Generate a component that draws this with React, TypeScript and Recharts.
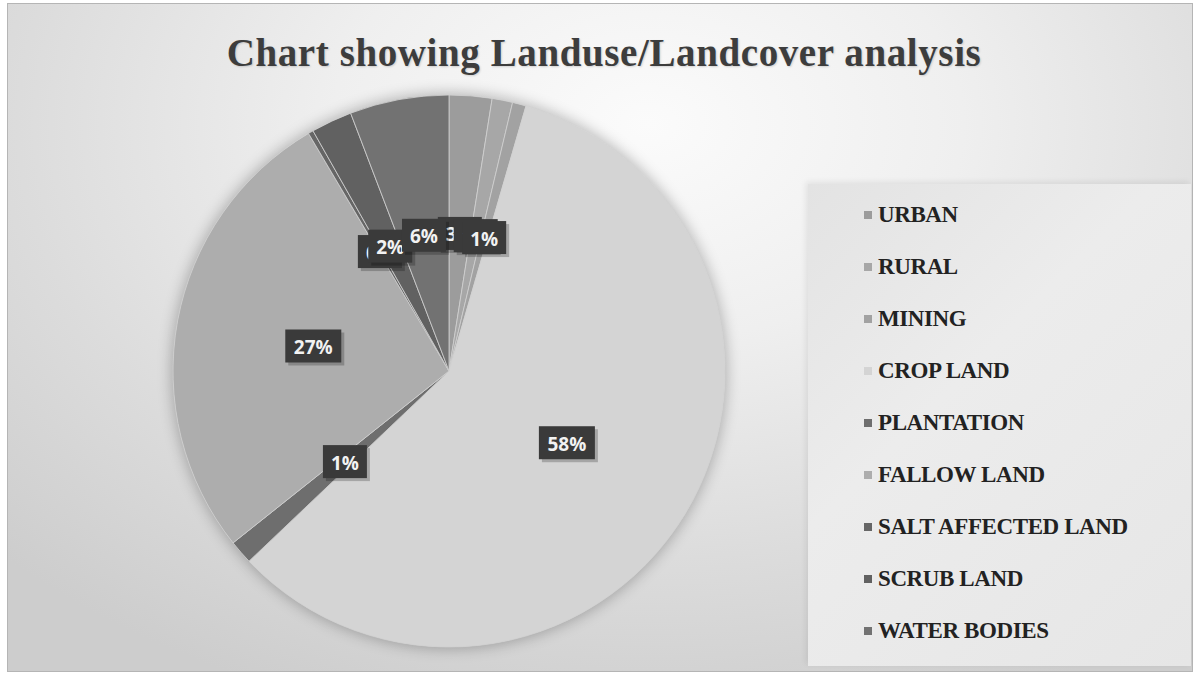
import { PieChart, Pie, Cell } from 'recharts'

const categories = [
  'URBAN',
  'RURAL',
  'MINING',
  'CROP LAND',
  'PLANTATION',
  'FALLOW LAND',
  'SALT AFFECTED LAND',
  'SCRUB LAND',
  'WATER BODIES',
]

// share of the study area, in percent
const shares = [2.5, 1.2, 0.8, 58.4, 1.4, 27.2, 0.3, 2.4, 5.8]

const COLORS = [
  '#9c9c9c', // urban
  '#a7a7a7', // rural
  '#a2a2a2', // mining
  '#d4d4d4', // crop land
  '#6e6e6e', // plantation
  '#adadad', // fallow land
  '#666666', // salt affected
  '#616161', // scrub land
  '#727272', // water bodies
]

const data = categories.map((name, i) => ({ name, value: shares[i] }))

const RADIAN = Math.PI / 180
const CX = 449
const CY = 371
const R = 276

function renderLabel(props: any) {
  const { cx, cy, midAngle, outerRadius, percent } = props
  const r = outerRadius * 0.5
  const x = cx + r * Math.cos(-midAngle * RADIAN)
  const y = cy + r * Math.sin(-midAngle * RADIAN)
  const text = `${Math.round(percent * 100)}%`
  const w = (text.length - 1) * 12 + 19 + 13
  const h = 33
  return (
    <g>
      <rect x={x - w / 2 + 3} y={y - h / 2 + 3} width={w} height={h} fill="#000" opacity={0.22} />
      <rect x={x - w / 2} y={y - h / 2} width={w} height={h} fill="#3a3a3a" />
      <text
        x={x}
        y={y + 1}
        fill="#f2f2f2"
        textAnchor="middle"
        dominantBaseline="central"
        fontFamily="'Open Sans', sans-serif"
        fontWeight={700}
        fontSize={19}
      >
        {text}
      </text>
    </g>
  )
}

function LegendBox() {
  return (
    <div
      style={{
        position: 'absolute',
        left: 864,
        top: 189,
        fontFamily: "'Liberation Serif', 'Times New Roman', serif",
      }}
    >
      {data.map((d, i) => (
        <div
          key={d.name}
          style={{ display: 'flex', alignItems: 'center', height: 52, whiteSpace: 'nowrap' }}
        >
          <span
            style={{
              width: 8,
              height: 8,
              background: COLORS[i],
              marginRight: 6,
              display: 'inline-block',
            }}
          />
          <span style={{ fontWeight: 700, fontSize: 23, color: '#222', letterSpacing: -0.4 }}>
            {d.name}
          </span>
        </div>
      ))}
    </div>
  )
}

export default function App() {
  return (
    <div
      style={{
        position: 'absolute',
        left: 0,
        top: 0,
        width: 1199,
        height: 677,
        background: '#fff',
        overflow: 'hidden',
      }}
    >
      <div
        style={{
          position: 'absolute',
          left: 7,
          top: 3,
          width: 1184,
          height: 667,
          border: '1px solid #b5b5b5',
          background:
            'radial-gradient(ellipse 900px 620px at 640px 120px, #fbfbfb 0%, #efefef 35%, #dcdcdc 70%, #cdcdcd 100%)',
        }}
      />
      <div
        style={{
          position: 'absolute',
          left: 808,
          top: 184,
          width: 383,
          height: 482,
          background: 'linear-gradient(135deg, #e3e3e3 0%, #ececec 40%, #e6e6e6 100%)',
          boxShadow: '-2px -2px 6px rgba(0,0,0,0.08)',
        }}
      />
      <div
        style={{
          position: 'absolute',
          left: CX - R,
          top: CY - R,
          width: R * 2,
          height: R * 2,
          borderRadius: '50%',
          boxShadow: '0 0 14px 2px rgba(0,0,0,0.25)',
        }}
      />
      <div
        style={{
          position: 'absolute',
          left: 0,
          top: 31,
          width: 1208,
          textAlign: 'center',
          fontFamily: "'Liberation Serif', 'Times New Roman', serif",
          fontWeight: 700,
          fontSize: 39,
          color: '#3d3d3d',
          letterSpacing: 0.6,
          lineHeight: 1.15,
          textShadow: '1px 1px 2px rgba(0,0,0,0.15)',
        }}
      >
        Chart showing Landuse/Landcover analysis
      </div>
      <div style={{ position: 'absolute', left: 0, top: 0 }}>
        <PieChart width={1199} height={677} margin={{ top: 0, right: 0, bottom: 0, left: 0 }}>
          <Pie
            data={data}
            dataKey="value"
            nameKey="name"
            cx={CX}
            cy={CY}
            outerRadius={R}
            startAngle={90}
            endAngle={-270}
            stroke="#d0d0d0"
            strokeWidth={0.8}
            labelLine={false}
            label={renderLabel}
            isAnimationActive={false}
          >
            {data.map((entry, index) => (
              <Cell key={`cell-${index}`} fill={COLORS[index]} />
            ))}
          </Pie>
        </PieChart>
      </div>
      <LegendBox />
    </div>
  )
}
